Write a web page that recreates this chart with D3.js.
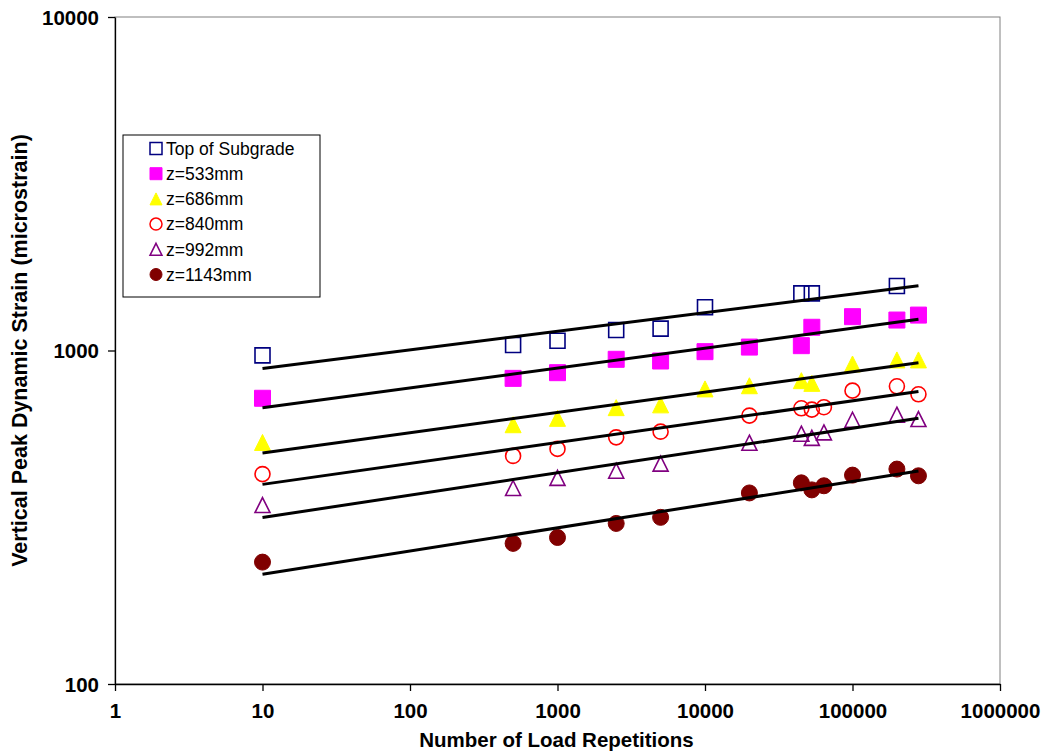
<!DOCTYPE html>
<html>
<head>
<meta charset="utf-8">
<script src="https://cdn.jsdelivr.net/npm/d3@7"></script>
<style>
  html, body { margin: 0; padding: 0; background: #ffffff; }
  svg { display: block; font-family: "Liberation Sans", Arial, sans-serif; }
</style>
</head>
<body>
<svg id="chart" width="1045" height="755"></svg>
<script>
// Load repetitions at which each gauge group was read
const repsSubgrade = [10, 500, 1000, 2500, 5000, 10000, 45000, 53000, 200000];
const repsUpper    = [10, 500, 1000, 2500, 5000, 10000, 20000, 45000, 53000, 100000, 200000, 280000];
const repsLower    = [10, 500, 1000, 2500, 5000, 20000, 45000, 53000, 64000, 100000, 200000, 280000];

// Vertical peak dynamic strain (microstrain)
const topOfSubgrade = [967, 1039, 1070, 1152, 1163, 1348, 1484, 1484, 1561];
const z533  = [719, 825, 858, 941, 930, 992, 1024, 1034, 1174, 1263, 1234, 1277];
const z686  = [530, 599, 626, 674, 687, 767, 784, 812, 797, 911, 937, 937];
const z840  = [426, 483, 507, 549, 571, 638, 671, 665, 676, 758, 781, 739];
const z992  = [344, 387, 415, 436, 458, 529, 563, 547, 568, 620, 642, 623];
const z1143 = [232, 264, 275, 303, 316, 374, 401, 382, 393, 423, 441, 421];

const seriesNames = ["Top of Subgrade", "z=533mm", "z=686mm", "z=840mm", "z=992mm", "z=1143mm"];

const xTicks = [1, 10, 100, 1000, 10000, 100000, 1000000];
const yTicks = [100, 1000, 10000];

// Isosceles triangle whose width equals its height
const symbolTri = {
  draw(ctx, size) {
    const s = Math.sqrt(size) / 2;
    ctx.moveTo(0, -s);
    ctx.lineTo(s, s);
    ctx.lineTo(-s, s);
    ctx.closePath();
  }
};

const styles = [
  { type: d3.symbolSquare, fill: "none",    stroke: "#000080" },
  { type: d3.symbolSquare, fill: "#FF00FF", stroke: "#FF00FF" },
  { type: symbolTri,       fill: "#FFFF00", stroke: "#FFFF00" },
  { type: d3.symbolCircle, fill: "none",    stroke: "#FF0000" },
  { type: symbolTri,       fill: "none",    stroke: "#800080" },
  { type: d3.symbolCircle, fill: "#800000", stroke: "#800000" }
];
const markerSide = [15, 16, 16, 15, 15, 16];

const series = [
  { name: seriesNames[0], x: repsSubgrade, y: topOfSubgrade },
  { name: seriesNames[1], x: repsUpper,    y: z533 },
  { name: seriesNames[2], x: repsUpper,    y: z686 },
  { name: seriesNames[3], x: repsLower,    y: z840 },
  { name: seriesNames[4], x: repsLower,    y: z992 },
  { name: seriesNames[5], x: repsLower,    y: z1143 }
];

const svg = d3.select("#chart");

const plotLeft = 115, plotRight = 1000, plotTop = 17, plotBottom = 684;
const x = d3.scaleLog().domain([1, 1000000]).range([plotLeft, plotRight]);
const y = d3.scaleLog().domain([100, 10000]).range([plotBottom, plotTop]);

// Plot area frame
svg.append("rect")
  .attr("x", plotLeft).attr("y", plotTop)
  .attr("width", plotRight - plotLeft).attr("height", plotBottom - plotTop)
  .attr("fill", "none").attr("stroke", "#808080").attr("stroke-width", 1);

// Axes
const xAxis = svg.append("g")
  .attr("transform", `translate(0,${plotBottom})`)
  .call(d3.axisBottom(x).tickValues(xTicks).tickFormat(d3.format("d"))
    .tickSize(7).tickSizeOuter(0).tickPadding(12));
const yAxis = svg.append("g")
  .attr("transform", `translate(${plotLeft},0)`)
  .call(d3.axisLeft(y).tickValues(yTicks).tickFormat(d3.format("d"))
    .tickSize(7).tickSizeOuter(0).tickPadding(9));

[xAxis, yAxis].forEach(g => {
  g.select(".domain").attr("stroke", "#000").attr("stroke-width", 1.3);
  g.selectAll(".tick line").attr("stroke", "#000").attr("stroke-width", 1.3);
  g.selectAll(".tick text")
    .attr("fill", "#000")
    .style("font-family", "'Liberation Sans', Arial, sans-serif")
    .style("font-size", "20.5px")
    .style("font-weight", "bold");
});
yAxis.selectAll(".tick text").attr("dy", "0.35em");

// Axis titles
svg.append("text")
  .attr("x", (plotLeft + plotRight) / 2 - 1).attr("y", 747)
  .attr("text-anchor", "middle")
  .style("font-size", "20.5px").style("font-weight", "bold")
  .text("Number of Load Repetitions");
svg.append("text")
  .attr("transform", `translate(27,${(plotTop + plotBottom) / 2}) rotate(-90)`)
  .attr("text-anchor", "middle")
  .style("font-size", "21.5px").style("font-weight", "bold")
  .text("Vertical Peak Dynamic Strain (microstrain)");

// Power-law trend (least squares in log-log space)
function powerFit(xs, ys) {
  const lx = xs.map(Math.log10), ly = ys.map(Math.log10);
  const mx = d3.mean(lx), my = d3.mean(ly);
  let sxy = 0, sxx = 0;
  lx.forEach((v, i) => { sxy += (v - mx) * (ly[i] - my); sxx += (v - mx) * (v - mx); });
  const b = sxy / sxx, a = my - b * mx;
  return n => Math.pow(10, a + b * Math.log10(n));
}

const allReps = [].concat(repsSubgrade, repsUpper, repsLower);
const trendRange = d3.extent(allReps);

const pts = svg.append("g");
series.forEach((s, i) => {
  const st = styles[i];
  const sym = d3.symbol().type(st.type).size(markerSide[i] * markerSide[i] * (st.type === d3.symbolCircle ? Math.PI / 4 : 1));
  pts.append("g").selectAll("path")
    .data(s.x.map((n, k) => [n, s.y[k]]))
    .join("path")
    .attr("transform", d => `translate(${x(d[0])},${y(d[1])})`)
    .attr("d", sym)
    .attr("fill", st.fill)
    .attr("stroke", st.stroke)
    .attr("stroke-width", st.fill === "none" ? 1.6 : 1);
});

const lines = svg.append("g");
const lineGen = d3.line().x(d => x(d[0])).y(d => y(d[1]));
series.forEach(s => {
  const f = powerFit(s.x, s.y);
  lines.append("path")
    .attr("d", lineGen(trendRange.map(n => [n, f(n)])))
    .attr("fill", "none")
    .attr("stroke", "#000")
    .attr("stroke-width", 3);
});

// Legend
const legend = svg.append("g");
legend.append("rect")
  .attr("x", 123).attr("y", 135)
  .attr("width", 197).attr("height", 162)
  .attr("fill", "#fff").attr("stroke", "#000").attr("stroke-width", 1);
const rowY = d3.scaleLinear().domain([0, 5]).range([148.5, 274.5]);
series.forEach((s, i) => {
  const st = styles[i];
  const side = 12;
  const sym = d3.symbol().type(st.type).size(side * side * (st.type === d3.symbolCircle ? Math.PI / 4 : 1));
  legend.append("path")
    .attr("transform", `translate(156,${rowY(i)})`)
    .attr("d", sym)
    .attr("fill", st.fill)
    .attr("stroke", st.stroke)
    .attr("stroke-width", st.fill === "none" ? 1.5 : 1);
  legend.append("text")
    .attr("x", 166).attr("y", rowY(i))
    .attr("dy", "0.36em")
    .style("font-size", "17.5px")
    .text(s.name);
});
</script>
</body>
</html>
